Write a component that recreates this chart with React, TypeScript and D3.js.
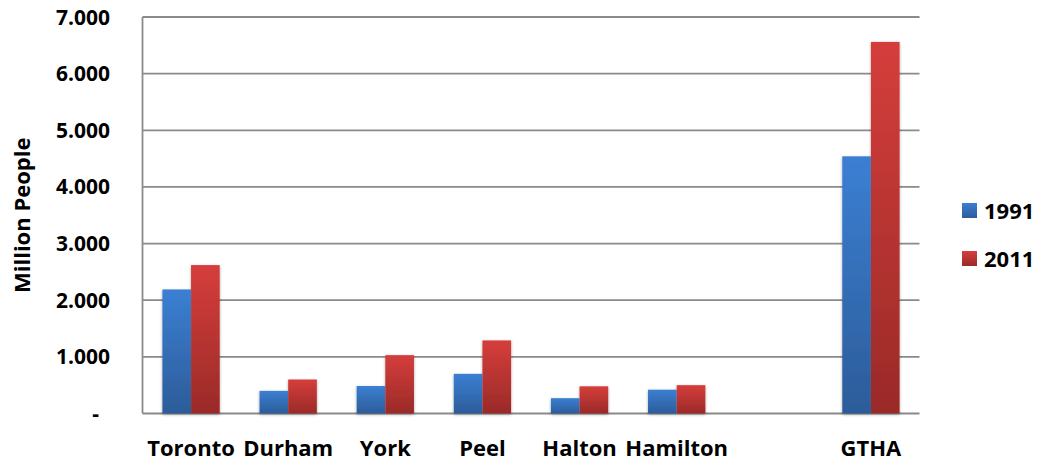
import React from "react";
import * as d3 from "d3";

// Population by region, millions
const categories = ["Toronto", "Durham", "York", "Peel", "Halton", "Hamilton", "", "GTHA"];
const years = ["1991", "2011"];
const pop1991: (number | null)[] = [2.19, 0.4, 0.485, 0.7, 0.27, 0.42, null, 4.54];
const pop2011: (number | null)[] = [2.62, 0.6, 1.03, 1.29, 0.48, 0.5, null, 6.56];
const yTicks = [0, 1, 2, 3, 4, 5, 6, 7];

const W = 1040;
const H = 464;
const plot = { left: 142.5, right: 919.5, top: 17, bottom: 413.5 };
const FONT = "'Open Sans', 'Liberation Sans', sans-serif";

const colors: Record<string, [string, string]> = {
  "1991": ["#3b7fd3", "#2c5c99"],
  "2011": ["#d53e3b", "#9a2a28"],
};

export default function App() {
  const x = d3.scaleBand<string>().domain(categories.map((c, i) => `${i}`)).range([plot.left, plot.right]);
  const groupW = x.bandwidth() * 0.59;
  const xSub = d3.scaleBand<string>().domain(years).range([0, groupW]);
  const y = d3.scaleLinear().domain([0, 7]).range([plot.bottom, plot.top]);
  const fmt = (v: number) => (v === 0 ? "-" : d3.format(".3f")(v));
  const series: Record<string, (number | null)[]> = { "1991": pop1991, "2011": pop2011 };

  return (
    <svg width={W} height={H} style={{ position: "absolute", left: 0, top: 0, display: "block" }}>
      <defs>
        {years.map((yr) => (
          <linearGradient key={yr} id={`g${yr}`} x1="0" y1="0" x2="0" y2="1">
            <stop offset="0" stopColor={colors[yr][0]} />
            <stop offset="1" stopColor={colors[yr][1]} />
          </linearGradient>
        ))}
        <filter id="shadow" x="-20%" y="-5%" width="140%" height="110%">
          <feGaussianBlur in="SourceAlpha" stdDeviation="1.5" />
          <feOffset dx="0" dy="1" result="b" />
          <feComponentTransfer>
            <feFuncA type="linear" slope="0.35" />
          </feComponentTransfer>
          <feMerge>
            <feMergeNode />
            <feMergeNode in="SourceGraphic" />
          </feMerge>
        </filter>
      </defs>

      {/* gridlines */}
      {yTicks.map((t) => (
        <line key={t} x1={plot.left} x2={plot.right} y1={y(t)} y2={y(t)} stroke="#8a8a8a" strokeWidth={1.8} />
      ))}
      <line x1={plot.left} x2={plot.left} y1={plot.top} y2={plot.bottom} stroke="#8a8a8a" strokeWidth={1.8} />

      {/* y tick labels */}
      {yTicks.map((t) => (
        <text
          key={t}
          x={t === 0 ? 99 : 110}
          y={y(t)}
          dy="0.36em"
          textAnchor="end"
          fontFamily={FONT}
          fontWeight={700}
          fontSize={21}
          fill="#000"
        >
          {fmt(t)}
        </text>
      ))}

      {/* bars */}
      <g filter="url(#shadow)">
        {categories.map((c, i) =>
          years.map((yr) => {
            const v = series[yr][i];
            if (v == null) return null;
            const bx = (x(`${i}`) as number) + (x.bandwidth() - groupW) / 2 + (xSub(yr) as number);
            return (
              <rect
                key={`${i}-${yr}`}
                x={bx}
                y={y(v)}
                width={xSub.bandwidth()}
                height={y(0) - y(v)}
                fill={`url(#g${yr})`}
              />
            );
          })
        )}
      </g>

      {/* category labels */}
      {categories.map((c, i) => (
        <text
          key={i}
          x={(x(`${i}`) as number) + x.bandwidth() / 2}
          y={456}
          textAnchor="middle"
          fontFamily={FONT}
          fontWeight={700}
          fontSize={22}
          fill="#000"
        >
          {c}
        </text>
      ))}

      {/* axis title */}
      <text
        transform={`translate(30, ${(plot.top + plot.bottom) / 2}) rotate(-90)`}
        textAnchor="middle"
        fontFamily={FONT}
        fontWeight={700}
        fontSize={22}
        fill="#000"
      >
        Million People
      </text>

      {/* legend */}
      {years.map((yr, i) => (
        <g key={yr} transform={`translate(962, ${203 + i * 48})`}>
          <rect width={15} height={15} fill={`url(#g${yr})`} />
          <text x={22} y={15.5} fontFamily={FONT} fontWeight={700} fontSize={22} fill="#000">
            {yr}
          </text>
        </g>
      ))}
    </svg>
  );
}
